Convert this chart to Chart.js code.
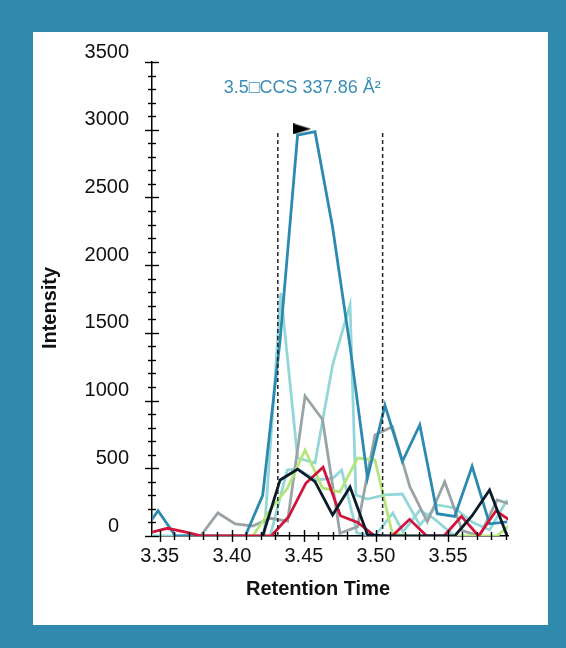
<!DOCTYPE html>
<html>
<head>
<meta charset="utf-8">
<script src="https://cdn.jsdelivr.net/npm/chart.js@4.4.1/dist/chart.umd.min.js"></script>
<style>
  html, body { margin: 0; padding: 0; width: 566px; height: 648px; overflow: hidden; background: #2f8aae; }
  #panel { position: absolute; left: 33px; top: 32px; width: 515px; height: 593px; background: #ffffff; }
  canvas { display: block; }
</style>
</head>
<body>
<div id="panel"><canvas id="chart" width="515" height="593"></canvas></div>
<script>
// Extracted ion chromatograms (retention time in min, intensity in counts)
const blueTimes  = [3.3366, 3.3488, 3.3609, 3.3730, 3.3851, 3.3972, 3.4093, 3.4214, 3.4335, 3.4456, 3.4577, 3.4699, 3.4820, 3.4941, 3.5062, 3.5183, 3.5304, 3.5425, 3.5546, 3.5667, 3.5788, 3.5910];
const blueValues = [0, 187, 0, 0, 0, 0, 0, 300, 1450, 2960, 2985, 2280, 1400, 430, 965, 550, 820, 165, 145, 515, 90, 105];

const blackTimes  = [3.4214, 3.4335, 3.4456, 3.4577, 3.4699, 3.4820, 3.4941, 3.5062, 3.5183, 3.5304, 3.5425, 3.5546, 3.5667, 3.5788, 3.5910];
const blackValues = [0, 414, 493, 401, 155, 362, 10, 0, 0, 0, 0, 0, 150, 340, 0];

const grayTimes  = [3.3661, 3.3782, 3.3903, 3.4024, 3.4145, 3.4266, 3.4387, 3.4508, 3.4629, 3.4750, 3.4872, 3.4993, 3.5114, 3.5235, 3.5356, 3.5477, 3.5598, 3.5719, 3.5840, 3.5961];
const grayValues = [0, 0, 170, 89, 74, 131, 110, 1034, 860, 20, 69, 746, 807, 364, 105, 401, 40, 0, 266, 225];

const greenTimes  = [3.4024, 3.4145, 3.4266, 3.4387, 3.4508, 3.4629, 3.4750, 3.4872, 3.4993, 3.5114, 3.5235, 3.5356, 3.5477, 3.5598, 3.5719, 3.5840, 3.5961];
const greenValues = [0, 0, 192, 355, 635, 355, 325, 576, 561, 15, 0, 0, 0, 0, 0, 0, 110];

const redTimes  = [3.3434, 3.3553, 3.3673, 3.3793, 3.3913, 3.4033, 3.4153, 3.4273, 3.4393, 3.4513, 3.4633, 3.4753, 3.4873, 3.4993, 3.5112, 3.5233, 3.5352, 3.5472, 3.5593, 3.5712, 3.5832, 3.5952];
const redValues = [25, 57, 30, 0, 0, 0, 0, 0, 140, 389, 507, 150, 100, 0, 0, 123, 0, 0, 145, 0, 185, 100];

const cyanTimes  = [3.3353, 3.3470, 3.4224, 3.4340, 3.4456, 3.4577, 3.4699, 3.4820, 3.4861, 3.4941, 3.5062, 3.5183, 3.5304, 3.5425, 3.5546, 3.5667, 3.5788, 3.5910];
const cyanValues = [40, 0, 0, 1795, 576, 539, 1263, 1706, 303, 273, 303, 310, 80, 229, 207, 103, 44, 266];

const tealTimes  = [3.4266, 3.4384, 3.4453, 3.4584, 3.4702, 3.4762, 3.4868, 3.4993, 3.5117, 3.5187, 3.5304, 3.5400, 3.5546];
const tealValues = [0, 487, 495, 414, 428, 487, 22, 0, 170, 30, 190, 130, 0];

// Integration window and apex marker
const windowTimes = [3.4319, 3.5046];
const windowTop = 2990;
const apexTime = 3.4488;
const apexValue = 3006;
const apexLabel = '3.5\u25A1CCS 337.86 \u00C5\u00B2';
const apexLabelValue = 3310;

// Axis ticks
const xTickValues = [3.35, 3.40, 3.45, 3.50, 3.55];
const xTickLabels = ['3.35', '3.40', '3.45', '3.50', '3.55'];
const yTickValues = [0, 500, 1000, 1500, 2000, 2500, 3000, 3500];
const yTickLabels = ['0\u2002', '500', '1000', '1500', '2000', '2500', '3000', '3500'];
const xTitle = 'Retention Time';
const yTitle = 'Intensity';

const FONT = '"Liberation Sans", Arial, sans-serif';

function points(times, values) {
  return times.map((t, i) => ({ x: t, y: values[i] }));
}

function trace(data, color, order) {
  return {
    data, borderColor: color, backgroundColor: color, borderWidth: 2.8,
    pointRadius: 0, tension: 0, fill: false, order,
    borderJoinStyle: 'miter', borderCapStyle: 'butt'
  };
}

// right-pointing apex flag
const flag = document.createElement('canvas');
flag.width = 18; flag.height = 11;
(function () {
  const g = flag.getContext('2d');
  g.fillStyle = '#000';
  g.beginPath(); g.moveTo(0, 0); g.lineTo(18, 5.5); g.lineTo(0, 11); g.closePath(); g.fill();
})();

const datasets = [
  trace(points(blackTimes, blackValues), '#0c1b2a', 1),
  trace(points(redTimes, redValues), '#d0143c', 2),
  trace(points(blueTimes, blueValues), '#2c8ab1', 3),
  trace(points(greenTimes, greenValues), '#b5e67c', 4),
  trace(points(grayTimes, grayValues), '#9aa4a6', 5),
  trace(points(cyanTimes, cyanValues), '#93d7d9', 6),
  trace(points(tealTimes, tealValues), '#93d7d9', 7)
];
windowTimes.forEach(t => {
  datasets.push({
    data: [{ x: t, y: 0 }, { x: t, y: windowTop }],
    borderColor: '#222222', borderWidth: 1.5, borderDash: [4, 3],
    pointRadius: 0, fill: false, order: 0
  });
});
datasets.push({
  data: [{ x: apexTime, y: apexValue }],
  showLine: false, pointStyle: flag, pointRadius: 9, order: -1
});

const axisMarks = {
  id: 'axisMarks',
  afterDraw(chart) {
    const { ctx, scales: { x, y } } = chart;
    ctx.save();
    ctx.strokeStyle = '#000';
    ctx.lineWidth = 1.4;
    for (let i = 0; i <= 35; i++) {
      const py = Math.round(y.getPixelForValue(i * 100)) + 0.5;
      const half = i % 5 === 0 ? 7 : 4;
      ctx.beginPath(); ctx.moveTo(x.left - half, py); ctx.lineTo(x.left + half, py); ctx.stroke();
    }
    for (let i = 0; i <= 24; i++) {
      const t = 3.35 + i * 0.01;
      if (t > x.max) break;
      const px = Math.round(x.getPixelForValue(t)) + 0.5;
      const major = i % 5 === 0;
      ctx.beginPath();
      ctx.moveTo(px, y.bottom - (major ? 6 : 4));
      ctx.lineTo(px, y.bottom + (major ? 6 : 4));
      ctx.stroke();
    }
    // axis titles
    ctx.font = 'bold 20px ' + FONT;
    ctx.fillStyle = '#111';
    ctx.textAlign = 'center';
    ctx.textBaseline = 'middle';
    ctx.fillText(xTitle, (x.left + x.right) / 2 - 12, x.bottom - 36);
    ctx.translate(17, (y.top + y.bottom) / 2 + 9);
    ctx.rotate(-Math.PI / 2);
    ctx.fillText(yTitle, 0, 0);
    ctx.restore();
  }
};

const apexText = {
  id: 'apexText',
  afterDatasetsDraw(chart) {
    const { ctx, scales: { x, y } } = chart;
    ctx.save();
    ctx.font = '18px ' + FONT;
    ctx.fillStyle = '#3a8db4';
    ctx.textAlign = 'center';
    ctx.textBaseline = 'middle';
    ctx.fillText(apexLabel, x.getPixelForValue(apexTime), y.getPixelForValue(apexLabelValue));
    ctx.restore();
  }
};

new Chart(document.getElementById('chart'), {
  type: 'line',
  data: { datasets },
  options: {
    responsive: false,
    animation: false,
    events: [],
    layout: { padding: { left: 0, right: 40, top: 30, bottom: 0 } },
    plugins: { legend: { display: false }, tooltip: { enabled: false } },
    scales: {
      x: {
        type: 'linear',
        min: 3.3446, max: 3.5916,
        afterFit(s) { s.height = 89; s.paddingLeft = 0; s.paddingRight = 0; },
        afterBuildTicks(s) { s.ticks = xTickValues.map(v => ({ value: v })); },
        grid: { display: true, drawOnChartArea: false, drawTicks: false },
        border: { display: true, color: '#000', width: 1.5 },
        ticks: {
          autoSkip: false, maxRotation: 0, padding: 8, color: '#111',
          font: { family: FONT, size: 20 },
          callback: (v, i) => xTickLabels[i]
        },
        title: { display: false }
      },
      y: {
        type: 'linear',
        min: 0, max: 3500,
        afterFit(s) { s.width = 119; s.paddingTop = 0; s.paddingBottom = 0; },
        afterBuildTicks(s) { s.ticks = yTickValues.map(v => ({ value: v })); },
        grid: { display: true, drawOnChartArea: false, drawTicks: false },
        border: { display: true, color: '#000', width: 1.5 },
        ticks: {
          autoSkip: false, padding: 23, labelOffset: -10, color: '#111',
          font: { family: FONT, size: 20 },
          callback: (v, i) => yTickLabels[i]
        },
        title: { display: false }
      }
    }
  },
  plugins: [axisMarks, apexText]
});
</script>
</body>
</html>
